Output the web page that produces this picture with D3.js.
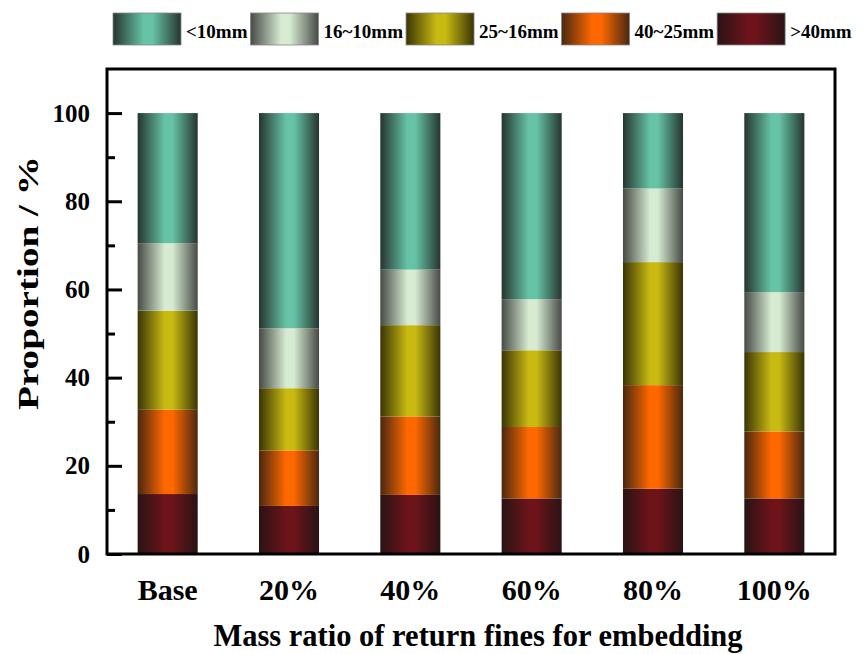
<!DOCTYPE html>
<html>
<head>
<meta charset="utf-8">
<script src="https://cdn.jsdelivr.net/npm/d3@7"></script>
<style>
  body { margin: 0; background: #fff; }
  text { font-family: "Liberation Serif", "Times New Roman", serif; font-weight: bold; }
</style>
</head>
<body>
<div class="canvas"></div>
<script>
// data (percent, bottom to top)
const categories = ["Base", "20%", "40%", "60%", "80%", "100%"];
const over40 = [13.6, 10.9, 13.4, 12.6, 14.8, 12.6];
const from25to40 = [19.1, 12.6, 17.8, 16.2, 23.5, 15.2];
const from16to25 = [22.5, 14.1, 20.7, 17.4, 27.9, 18.0];
const from10to16 = [15.3, 13.6, 12.6, 11.6, 16.7, 13.6];
const under10 = [29.5, 48.8, 35.5, 42.2, 17.1, 40.6];
const seriesNames = [">40mm", "40~25mm", "25~16mm", "16~10mm", "<10mm"];
const legendOrder = ["<10mm", "16~10mm", "25~16mm", "40~25mm", ">40mm"];
const yTicks = [0, 20, 40, 60, 80, 100];
const yMinorTicks = [10, 30, 50, 70, 90];

const width = 864;
const height = 654;
const margin = { top: 69, right: 29, bottom: 100, left: 107 };

// centre / edge colours for the cylinder look
const colors = {
  "<10mm": ["#66c3a6", "#26352f"],
  "16~10mm": ["#d6ebd2", "#474a45"],
  "25~16mm": ["#c9ba12", "#3a3506"],
  "40~25mm": ["#ff6800", "#4a2810"],
  ">40mm": ["#6c141a", "#291315"]
};

const svg = d3
  .select(".canvas")
  .append("svg")
  .attr("width", width)
  .attr("height", height);

const defs = svg.append("defs");
seriesNames.forEach((name, i) => {
  const g = defs
    .append("linearGradient")
    .attr("id", "grad" + i)
    .attr("x1", "0%")
    .attr("x2", "100%")
    .attr("y1", "0%")
    .attr("y2", "0%");
  g.append("stop").attr("offset", "0%").attr("stop-color", colors[name][1]);
  g.append("stop").attr("offset", "45%").attr("stop-color", colors[name][0]);
  g.append("stop").attr("offset", "58%").attr("stop-color", colors[name][0]);
  g.append("stop").attr("offset", "100%").attr("stop-color", colors[name][1]);
});

const rows = categories.map((c, i) => ({
  cat: c,
  ">40mm": over40[i],
  "40~25mm": from25to40[i],
  "25~16mm": from16to25[i],
  "16~10mm": from10to16[i],
  "<10mm": under10[i]
}));

const stacked = d3.stack().keys(seriesNames)(rows);

const x = d3
  .scaleBand()
  .domain(categories)
  .range([margin.left, width - margin.right])
  .paddingInner(0.505)
  .paddingOuter(0.2525);

const y = d3
  .scaleLinear()
  .domain([0, 110])
  .range([height - margin.bottom, margin.top]);

// bars
svg
  .append("g")
  .selectAll("g")
  .data(stacked)
  .join("g")
  .attr("fill", (d, i) => "url(#grad" + i + ")")
  .selectAll("rect")
  .data((d) => d)
  .join("rect")
  .attr("x", (d) => x(d.data.cat))
  .attr("width", x.bandwidth())
  .attr("y", (d) => y(d[1]))
  .attr("height", (d) => y(d[0]) - y(d[1]));

// y axis, ticks pointing inward
const yAxis = svg
  .append("g")
  .attr("transform", `translate(${margin.left},0)`)
  .call(d3.axisLeft(y).tickValues(yTicks).tickSize(-15).tickPadding(17));
yAxis.select(".domain").remove();
yAxis.selectAll("line").attr("stroke", "black").attr("stroke-width", 3);
yAxis
  .selectAll("text")
  .attr("font-size", 25)
  .attr("font-family", "Liberation Serif")
  .attr("font-weight", "bold")
  .attr("fill", "black");

const yMinor = svg
  .append("g")
  .attr("transform", `translate(${margin.left},0)`)
  .call(d3.axisLeft(y).tickValues(yMinorTicks).tickSize(-8).tickFormat(""));
yMinor.select(".domain").remove();
yMinor.selectAll("line").attr("stroke", "black").attr("stroke-width", 3);

// x axis labels
const xAxis = svg
  .append("g")
  .attr("transform", `translate(0,${height - margin.bottom})`)
  .call(d3.axisBottom(x).tickSize(0).tickPadding(25));
xAxis.select(".domain").remove();
xAxis
  .selectAll("text")
  .attr("font-size", 30)
  .attr("font-family", "Liberation Serif")
  .attr("font-weight", "bold")
  .attr("fill", "black");

// frame
svg
  .append("rect")
  .attr("x", margin.left)
  .attr("y", margin.top)
  .attr("width", width - margin.left - margin.right)
  .attr("height", height - margin.top - margin.bottom)
  .attr("fill", "none")
  .attr("stroke", "black")
  .attr("stroke-width", 3);

// axis titles
svg
  .append("text")
  .text("Mass ratio of return fines for embedding")
  .attr("x", (margin.left + width - margin.right) / 2 + 7)
  .attr("y", 646)
  .attr("text-anchor", "middle")
  .attr("font-size", 30.5);

svg
  .append("text")
  .text("Proportion / %")
  .attr("transform", "translate(38,283) rotate(-90)")
  .attr("text-anchor", "middle")
  .attr("font-size", 30)
  .attr("textLength", 254)
  .attr("lengthAdjust", "spacingAndGlyphs");

// legend
const legend = svg.append("g");
let lx = 113;
legendOrder.forEach((name) => {
  const i = seriesNames.indexOf(name);
  legend
    .append("rect")
    .attr("x", lx)
    .attr("y", 13)
    .attr("width", 68)
    .attr("height", 32)
    .attr("fill", "url(#grad" + i + ")")
    .attr("stroke", "#888")
    .attr("stroke-width", 0.8);
  const t = legend
    .append("text")
    .text(name)
    .attr("x", lx + 73)
    .attr("y", 38)
    .attr("font-size", 19);
  lx = lx + 73 + t.node().getComputedTextLength() + 3;
});
</script>
</body>
</html>
